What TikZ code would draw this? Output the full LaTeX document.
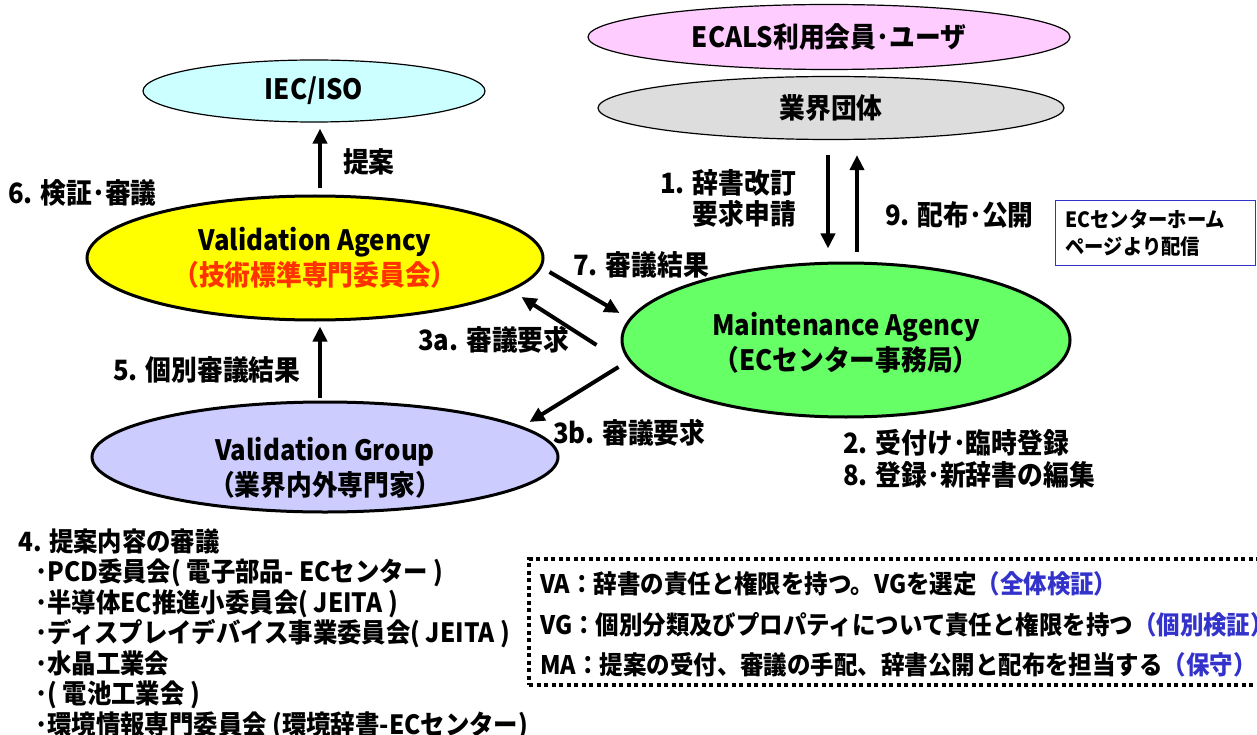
\documentclass[tikz,border=0pt]{standalone}
\usepackage{fontspec}
\setmainfont{Noto Sans CJK JP}[FakeStretch=0.92]
\usepackage{xcolor}
\usetikzlibrary{positioning, shapes.geometric, arrows.meta}

\definecolor{userpink}{HTML}{FFCCFF}
\definecolor{groupgray}{HTML}{DDDDDD}
\definecolor{isocyan}{HTML}{CCFFFF}
\definecolor{vayellow}{HTML}{FFFF00}
\definecolor{magreen}{HTML}{66FF66}
\definecolor{vglilac}{HTML}{CCCCFF}
\definecolor{jpred}{HTML}{FF3300}
\definecolor{boxblue}{HTML}{3333CC}

\begin{document}
\begin{tikzpicture}[x=1pt, y=-1pt,
	oval/.style = {draw, ellipse, inner sep=0pt, line width=1.2pt},
	bigoval/.style = {oval, line width=3pt},
	txt/.style = {font=\bfseries\fontsize{28}{35}\selectfont, inner sep=0pt},
	pair/.style = {font=\bfseries\fontsize{28}{31}\selectfont, inner sep=0pt},
	small/.style = {font=\bfseries\fontsize{25.5}{30.5}\selectfont, inner sep=0pt},
	listtxt/.style = {font=\bfseries\fontsize{26.5}{30.5}\selectfont, inner sep=0pt},
	arr/.style = {line width=4pt, -{Triangle[length=15pt, width=14pt]}}]
	\useasboundingbox (0,0) rectangle (1257,735);

	% ellipses
	\node[oval, fill=userpink, minimum width=482pt, minimum height=65pt,
		label={[txt]center:ECALS利用会員･ユーザ}] (ecals) at (829,37) {};
	\node[oval, fill=groupgray, minimum width=466pt, minimum height=63pt,
		label={[txt]center:業界団体}] (gyokai) at (831,108) {};
	\node[oval, fill=isocyan, minimum width=342pt, minimum height=62pt,
		label={[txt]center:IEC/ISO}] (iec) at (314,91) {};
	\node[bigoval, fill=vayellow, minimum width=456pt, minimum height=124pt,
		label={[txt, align=center]center:Validation Agency\\\textcolor{jpred}{（技術標準専門委員会）}}] (va) at (315,258) {};
	\node[bigoval, fill=magreen, minimum width=448pt, minimum height=154pt,
		label={[txt, align=center, yshift=-3pt]center:Maintenance Agency\\（ECセンター事務局）}] (ma) at (846,340) {};
	\node[bigoval, fill=vglilac, minimum width=466pt, minimum height=110pt,
		label={[txt, align=center, yshift=-11pt]center:Validation Group\\（業界内外専門家）}] (vg) at (325,457) {};

	% arrows
	\draw[arr] ([xshift=5pt, yshift=6pt]va.north) -- ([xshift=6pt, yshift=-6pt]iec.south);
	\draw[arr] ([xshift=-3pt, yshift=-15pt]gyokai.south) -- ([xshift=-18pt, yshift=13pt]ma.north);
	\draw[arr] ([xshift=11pt, yshift=10pt]ma.north) -- ([xshift=26pt, yshift=-15pt]gyokai.south);
	\draw[arr] ([xshift=5pt, yshift=-14pt]va.east) -- ([xshift=-1pt, yshift=27pt]ma.west);
	\draw[arr] ([xshift=-24pt, yshift=-5pt]ma.west) -- ([xshift=-23pt, yshift=-39pt]va.east);
	\draw[arr] ([xshift=-2pt, yshift=-27pt]ma.west) -- ([xshift=-30pt, yshift=35pt]vg.east);
	\draw[arr] ([xshift=-5pt, yshift=3pt]vg.north) -- ([xshift=5pt, yshift=-5pt]va.south);

	% labels
	\node[txt, anchor=west] (teian) at (343,162) {提案};
	\node[txt, anchor=west] (kensho) at (8,193) {6. 検証･審議};
	\node[pair, align=right, anchor=east] (request) at (796,198) {1. 辞書改訂\\要求申請};
	\node[txt, anchor=west] (publish) at (885,215) {9. 配布･公開};
	\node[draw=boxblue, line width=1pt, anchor=north west, minimum width=197pt,
		minimum height=65pt, text width=180pt, inner xsep=10pt, align=left,
		font=\bfseries\fontsize{21}{27}\selectfont] (home) at (1055,200) {ECセンターホーム\\ページより配信};
	\node[txt, anchor=west] (result7) at (573,265) {7. 審議結果};
	\node[txt, anchor=west] (ask3a) at (418,340) {3a. 審議要求};
	\node[txt, anchor=west] (result5) at (113,370) {5. 個別審議結果};
	\node[txt, anchor=west] (ask3b) at (553,433) {3b. 審議要求};
	\node[pair, font=\bfseries\fontsize{28}{32}\selectfont, align=left, anchor=west] (register) at (843,459) {2. 受付け･臨時登録\\8. 登録･新辞書の編集};

	% review bodies
	\node[listtxt, align=left, anchor=west] (bodies) at (18,634) {4. 提案内容の審議\\
		\hspace*{17pt}･PCD委員会( 電子部品- ECセンター )\\
		\hspace*{17pt}･半導体EC推進小委員会( JEITA )\\
		\hspace*{17pt}･ディスプレイデバイス事業委員会( JEITA )\\
		\hspace*{17pt}･水晶工業会\\
		\hspace*{17pt}･( 電池工業会 )\\
		\hspace*{17pt}･環境情報専門委員会 (環境辞書-ECセンター)};

	% roles
	\node[draw, line width=4pt, dash pattern=on 4pt off 3.5pt, anchor=north west,
		minimum width=760pt, minimum height=126pt] (roles) at (527,557) {};
	\node[small, anchor=west] (varole) at (540,584) {VA：辞書の責任と権限を持つ。VGを選定\textcolor{boxblue}{（全体検証）}};
	\node[small, anchor=west] (vgrole) at (540,625) {VG：個別分類及びプロパティについて責任と権限を持つ\textcolor{boxblue}{（個別検証）}};
	\node[small, anchor=west] (marole) at (540,665) {MA：提案の受付、審議の手配、辞書公開と配布を担当する\textcolor{boxblue}{（保守）}};
\end{tikzpicture}
\end{document}
